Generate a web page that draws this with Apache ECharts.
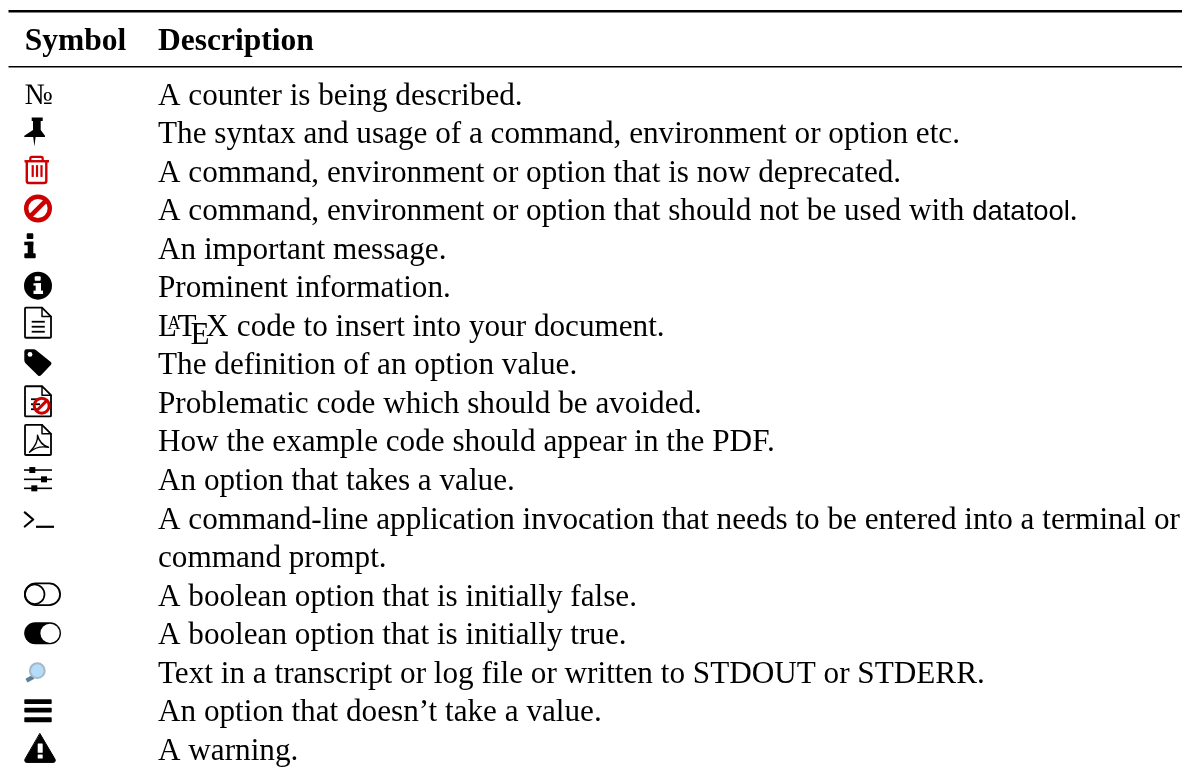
<!DOCTYPE html>
<html>
<head>
<meta charset="utf-8">
<style>html,body{margin:0;padding:0;background:#fff}#chart{width:1190px;height:771px}</style>
<script src="https://cdn.jsdelivr.net/npm/echarts@6/dist/echarts.min.js"></script>
</head>
<body>
<div id="chart"></div>
<script>
var headers = ['Symbol', 'Description'];
var symbols = ['numero', 'pin', 'trash', 'ban', 'slabI', 'infoCircle', 'doc', 'tag', 'docBan', 'docPdf',
    'sliders', 'prompt', null, 'toggleOff', 'toggleOn', 'magnifier', 'bars', 'warning'];
var descriptions = [
    'A counter is being described.',
    'The syntax and usage of a command, environment or option etc.',
    'A command, environment or option that is now deprecated.',
    'A command, environment or option that should not be used with {sans|datatool}.',
    'An important message.',
    'Prominent information.',
    '{latex} code to insert into your document.',
    'The definition of an option value.',
    'Problematic code which should be avoided.',
    'How the example code should appear in the PDF.',
    'An option that takes a value.',
    'A command-line application invocation that needs to be entered into a terminal or',
    'command prompt.',
    'A boolean option that is initially false.',
    'A boolean option that is initially true.',
    'Text in a transcript or log file or written to STDOUT or STDERR.',
    'An option that doesn\u2019t take a value.',
    'A warning.'
];

var SERIF = '"Liberation Serif", serif';
var FONT_SIZE = 31.2;
var TEXT_DY = 1.5;
var COL_SYMBOL = 24;
var COL_DESC = 158;
var RED = '#cc0000';

function p(d, fill, stroke, w) {
    return {type: 'path', shape: {pathData: d},
        style: {fill: fill || null, stroke: stroke || null, lineWidth: w || 0, lineJoin: 'round', lineCap: 'round'}};
}
function box(x, y, w, h, fill, r) {
    return {type: 'rect', shape: {x: x, y: y, width: w, height: h, r: r || 0}, style: {fill: fill || '#000'}};
}
function ring(x, y, r, fill, stroke, w) {
    return {type: 'circle', shape: {cx: x, cy: y, r: r}, style: {fill: fill || null, stroke: stroke || null, lineWidth: w || 0}};
}
function line(x1, y1, x2, y2, stroke, w) {
    return {type: 'line', shape: {x1: x1, y1: y1, x2: x2, y2: y2}, style: {stroke: stroke || '#000', lineWidth: w || 1}};
}
function banAt(x, y, r, w) {
    var k = r * 0.7071;
    return [ring(x, y, r, null, RED, w), line(x - k, y + k, x + k, y - k, RED, w)];
}
function page(dy) {
    return [p('M2 ' + (dy - 18) + 'H18L27 ' + (dy - 9) + 'V' + (dy + 11.5) + 'Q27 ' + (dy + 12.2) + ' 26 ' + (dy + 12.2) +
        'H2Q1 ' + (dy + 12.2) + ' 1 ' + (dy + 11.5) + 'V' + (dy - 17) + 'Q1 ' + (dy - 18) + ' 2 ' + (dy - 18) + 'Z', '#fff', '#000', 1.8),
        p('M18 ' + (dy - 18) + 'V' + (dy - 9) + 'H27', null, '#000', 1.5)];
}

var iconParts = {
    numero: function () {
        return [{type: 'text', style: {text: '\u2116', x: 0.5, y: TEXT_DY, verticalAlign: 'middle', font: (FONT_SIZE * 0.96) + 'px ' + SERIF, fill: '#000'}}];
    },
    pin: function () {
        return [p('M7.7 -16H18.7V-12.3H16.7V-3.5L21 2.3V3.5H11.6L10.4 13L9.2 3.5H0.3V2.3L9 -3.5V-12.3H7.7Z', '#000')];
    },
    trash: function () {
        return [
            p('M6.3 -11V-13.5Q6.3 -15 8 -15H17Q18.7 -15 18.7 -13.5V-11', null, RED, 2.2),
            line(0.5, -10.7, 25, -10.7, RED, 2.4),
            p('M2.8 -10V9Q2.8 11 5 11H20Q22.3 11 22.3 9V-10', null, RED, 2.4),
            line(8.7, -6.8, 8.7, 5, RED, 2.2), line(13, -6.8, 13, 5, RED, 2.2), line(17.5, -6.8, 17.5, 5, RED, 2.2)
        ];
    },
    ban: function () { return banAt(14, -2, 11.8, 4.4); },
    slabI: function () {
        return [box(2.7, -15.7, 6.6, 5.7, '#000', 1), box(0.3, -7.3, 9, 3.5, '#000'), box(3.7, -7.3, 5.6, 13, '#000'), box(0.3, 4.3, 11.4, 5, '#000', 1)];
    },
    infoCircle: function () {
        return [ring(14, -1.9, 14, '#000'),
            box(10.7, -11.3, 6, 4.5, '#fff', 1), box(9.5, -4.3, 7.5, 2.3, '#fff'), box(11.7, -4.3, 5.3, 9, '#fff'), box(9.5, 3, 9.5, 3.4, '#fff')];
    },
    doc: function () {
        return page(-0.6).concat([line(7.7, -4.4, 20.8, -4.4, '#000', 1.8), line(7.7, 0.6, 20.8, 0.6, '#000', 1.8), line(7.7, 5.6, 20.8, 5.6, '#000', 1.8)]);
    },
    tag: function () {
        return [p('M2.5 -15.5H9.5Q11 -15.5 12.2 -14.4L26.8 -2.8Q28.2 -1.5 27 0L17 10.5Q15.5 12 14 10.7L1.5 -1.5Q0.3 -2.8 0.3 -4.5V-13.3Q0.3 -15.5 2.5 -15.5Z', '#000'), ring(6, -10.3, 2.4, '#fff')];
    },
    docBan: function () {
        return page(1).concat([line(7, -4, 16, -4, '#000', 1.8), line(7, 1, 16, 1, '#000', 1.8), line(7, 6, 14, 6, '#000', 1.8)], banAt(17.7, 2.5, 7.5, 3));
    },
    docPdf: function () {
        return page(1).concat([p('M13.5 -6.5Q14.5 1 5.5 10.5Q13 3.5 24.5 5.5Q16 3 13.5 -6.5Z', null, '#000', 1.4)]);
    },
    sliders: function () {
        return [line(0, -10.3, 28, -10.3, '#000', 1.6), line(0, -1, 28, -1, '#000', 1.6), line(0, 8, 28, 8, '#000', 1.6),
            box(5.3, -13.3, 6, 6), box(17, -4, 6, 6), box(7.3, 5, 6, 6)];
    },
    prompt: function () {
        return [p('M0.8 -6.5L9.2 0.6L0.8 7.6', null, '#000', 2.2), line(12, 7.9, 30, 7.9, '#000', 2.2)];
    },
    toggleOff: function () {
        return [box(0.9, -12.6, 35.2, 21.7, null, 10.8), ring(10.7, -1.7, 9.8, null, '#000', 1.7)].map(function (el, i) {
            if (i === 0) { el.style = {fill: null, stroke: '#000', lineWidth: 1.8}; }
            return el;
        });
    },
    toggleOn: function () {
        return [box(0.2, -12.2, 36.8, 22, '#000', 11), ring(26, -1.2, 9.6, '#fff')];
    },
    magnifier: function () {
        return [line(9.3, 3.8, 2.5, 7.6, '#5d7f96', 4.2), ring(13.3, -2.4, 7.4, '#b5dcf8', '#a5b8c6', 2)];
    },
    bars: function () {
        return [box(0.3, -12.3, 27.4, 4.6, '#000', 0.8), box(0.3, -3.9, 27.4, 4.8, '#000', 0.8), box(0.3, 5.7, 27.4, 5, '#000', 0.8)];
    },
    warning: function () {
        return [p('M16 -16.5L31 9Q32.2 12 29 12.2H3Q-0.2 12 1 9Z', '#000', '#000', 1),
            box(13.7, -6.8, 5, 9.3, '#fff', 0.5), box(13.7, 4.2, 5, 4, '#fff', 0.5)];
    }
};

function descText(text, x, opts) {
    return {type: 'text', style: Object.assign({
        text: text, x: x, y: TEXT_DY, verticalAlign: 'middle',
        font: FONT_SIZE + 'px ' + SERIF, fill: '#000'
    }, opts || {})};
}
function latexLogo() {
    // hand kerned like the TeX logo
    return [
        descText('L', 0),
        descText('A', 9.5, {y: TEXT_DY - 3, font: '18px ' + SERIF}),
        descText('T', 19.5),
        descText('E', 32.5, {y: TEXT_DY + 8}),
        descText('X', 48)
    ];
}
function renderDescription(params, api) {
    var pos = api.coord([COL_DESC, api.value(0)]);
    var txt = descriptions[params.dataIndex];
    var children;
    if (txt.indexOf('{latex}') === 0) {
        children = latexLogo().concat([descText(txt.replace('{latex}', ''), 71)]);
    } else {
        children = [descText(txt, 0, {
            rich: {sans: {font: (FONT_SIZE * 0.88) + 'px "Liberation Sans", sans-serif', fill: '#000'}}
        })];
    }
    return {type: 'group', x: pos[0], y: pos[1], children: children};
}
function renderSymbol(params, api) {
    var name = symbols[params.dataIndex];
    if (!name) { return null; }
    var pos = api.coord([COL_SYMBOL, api.value(0)]);
    return {type: 'group', x: pos[0], y: pos[1], children: iconParts[name]()};
}
function renderHeader(params, api) {
    var pos = api.coord([params.dataIndex === 0 ? COL_SYMBOL + 0.7 : COL_DESC, api.value(0)]);
    return {type: 'text', style: {text: headers[params.dataIndex], x: pos[0], y: pos[1] + TEXT_DY, verticalAlign: 'middle',
        font: 'bold 31.5px ' + SERIF, fill: '#000'}};
}
function renderRule(params, api) {
    var a = api.coord([8.5, api.value(0)]);
    var b = api.coord([1182, api.value(0)]);
    return {type: 'line', shape: {x1: a[0], y1: a[1], x2: b[0], y2: b[1]},
        style: {stroke: '#000', lineWidth: api.value(1)}};
}

var rowData = descriptions.map(function (d, i) { return [i]; });
var chart = echarts.init(document.getElementById('chart'));
chart.setOption({
    animation: false,
    backgroundColor: '#fff',
    grid: {left: 0, right: 0, top: 0, bottom: 0},
    xAxis: {type: 'value', min: 0, max: 1190, show: false},
    yAxis: {type: 'value', inverse: true, min: -2.46, max: 17.54, show: false},
    tooltip: {show: false},
    series: [
        {type: 'custom', silent: true, renderItem: renderRule, encode: {y: 0}, data: [[-2.17, 2.6], [-0.73, 1.5]]},
        {type: 'custom', silent: true, renderItem: renderHeader, encode: {y: 0}, data: [[-1.42], [-1.42]]},
        {type: 'custom', silent: true, renderItem: renderSymbol, encode: {y: 0}, data: rowData},
        {type: 'custom', silent: true, renderItem: renderDescription, encode: {y: 0}, data: rowData}
    ]
});
</script>
</body>
</html>
